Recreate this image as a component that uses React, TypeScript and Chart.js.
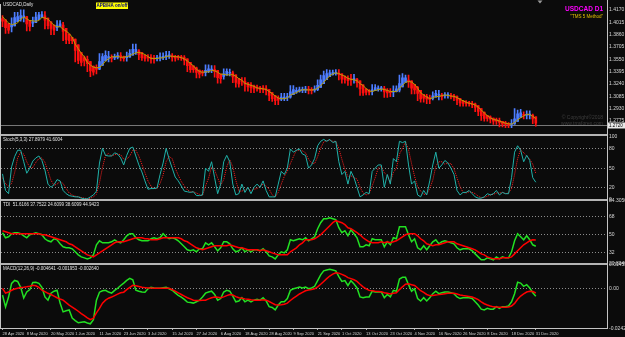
import React, { useEffect, useRef } from 'react';
import { Chart, registerables } from 'chart.js';

Chart.register(...registerables);

// ---------------- data ----------------
const dateTicks = ['28 Apr 2020', '8 May 2020', '20 May 2020', '1 Jun 2020', '11 Jun 2020', '23 Jun 2020', '3 Jul 2020', '15 Jul 2020', '27 Jul 2020', '6 Aug 2020', '18 Aug 2020', '28 Aug 2020', '9 Sep 2020', '21 Sep 2020', '1 Oct 2020', '13 Oct 2020', '23 Oct 2020', '4 Nov 2020', '16 Nov 2020', '26 Nov 2020', '8 Dec 2020', '18 Dec 2020', '31 Dec 2020'];
const BARS_PER_DATE_TICK = 8;
const SLOT_COUNT = 200;

const haOpen = [1.406, 1.4045, 1.3997, 1.3956, 1.397, 1.4023, 1.4054, 1.4077, 1.4086, 1.404,
  1.4002, 1.4011, 1.4046, 1.4077, 1.4095, 1.4068, 1.4021, 1.398, 1.3948, 1.3961,
  1.3978, 1.3939, 1.3867, 1.3825, 1.3804, 1.3732, 1.3634, 1.3572, 1.355, 1.3522,
  1.3463, 1.3426, 1.3425, 1.3473, 1.3529, 1.3565, 1.3574, 1.3567, 1.3574, 1.3585,
  1.3584, 1.3571, 1.3577, 1.3601, 1.3638, 1.3657, 1.3633, 1.3602, 1.3581, 1.3575,
  1.3565, 1.3558, 1.3562, 1.3571, 1.358, 1.3589, 1.3597, 1.3585, 1.3574, 1.3572,
  1.357, 1.3554, 1.3511, 1.3466, 1.3442, 1.3413, 1.3388, 1.3382, 1.3396, 1.3413,
  1.3419, 1.3409, 1.3364, 1.3335, 1.335, 1.3374, 1.3379, 1.3354, 1.3306, 1.3273,
  1.3272, 1.3254, 1.3229, 1.3211, 1.3195, 1.3192, 1.3181, 1.3178, 1.3169, 1.3132,
  1.3094, 1.3062, 1.3049, 1.3062, 1.3069, 1.3072, 1.3106, 1.3138, 1.3148, 1.3158,
  1.3162, 1.3166, 1.3165, 1.316, 1.3168, 1.3196, 1.3243, 1.3294, 1.3332, 1.3355,
  1.3369, 1.3377, 1.3366, 1.3333, 1.3314, 1.3297, 1.3294, 1.33, 1.3278, 1.3228,
  1.3178, 1.3157, 1.3146, 1.3156, 1.3175, 1.3179, 1.318, 1.316, 1.3143, 1.3137,
  1.3143, 1.3161, 1.3203, 1.3259, 1.3287, 1.328, 1.3233, 1.3198, 1.3159, 1.3105,
  1.3083, 1.3067, 1.3056, 1.3073, 1.3097, 1.3099, 1.309, 1.3093, 1.3094, 1.309,
  1.308, 1.3058, 1.3029, 1.3012, 1.3004, 1.2997, 1.2989, 1.2967, 1.2931, 1.2886,
  1.2846, 1.2826, 1.2811, 1.2791, 1.2781, 1.2768, 1.2752, 1.2741, 1.2731, 1.2736,
  1.2768, 1.2817, 1.2846, 1.2846, 1.2848, 1.2849, 1.2825];

const haClose = [1.403, 1.3948, 1.3915, 1.3983, 1.4075, 1.4085, 1.41, 1.4095, 1.3993, 1.3963,
  1.402, 1.408, 1.4108, 1.4113, 1.404, 1.3973, 1.3938, 1.3915, 1.3973, 1.3995,
  1.39, 1.3795, 1.3783, 1.3783, 1.366, 1.3535, 1.351, 1.3528, 1.3493, 1.3403,
  1.3388, 1.3423, 1.352, 1.3585, 1.36, 1.3583, 1.356, 1.358, 1.3595, 1.3583,
  1.3558, 1.3583, 1.3625, 1.3675, 1.3675, 1.3608, 1.357, 1.356, 1.3568, 1.3555,
  1.355, 1.3565, 1.358, 1.3588, 1.3598, 1.3605, 1.3573, 1.3563, 1.357, 1.3568,
  1.3538, 1.3468, 1.342, 1.3418, 1.3383, 1.3363, 1.3375, 1.341, 1.343, 1.3425,
  1.3398, 1.3318, 1.3305, 1.3365, 1.3398, 1.3383, 1.3328, 1.3258, 1.324, 1.327,
  1.3235, 1.3203, 1.3193, 1.3178, 1.3188, 1.317, 1.3175, 1.316, 1.3095, 1.3055,
  1.303, 1.3035, 1.3075, 1.3075, 1.3075, 1.314, 1.317, 1.3158, 1.3168, 1.3165,
  1.317, 1.3163, 1.3155, 1.3175, 1.3223, 1.329, 1.3345, 1.337, 1.3378, 1.3383,
  1.3385, 1.3355, 1.33, 1.3295, 1.328, 1.329, 1.3305, 1.3255, 1.3178, 1.3128,
  1.3135, 1.3135, 1.3165, 1.3193, 1.3183, 1.318, 1.314, 1.3125, 1.313, 1.3148,
  1.3178, 1.3245, 1.3315, 1.3315, 1.3273, 1.3185, 1.3163, 1.312, 1.305, 1.306,
  1.305, 1.3045, 1.309, 1.312, 1.31, 1.308, 1.3095, 1.3095, 1.3085, 1.307,
  1.3035, 1.3, 1.2995, 1.2995, 1.299, 1.298, 1.2945, 1.2895, 1.284, 1.2805,
  1.2805, 1.2795, 1.277, 1.277, 1.2755, 1.2735, 1.273, 1.272, 1.274, 1.28,
  1.2865, 1.2875, 1.2845, 1.285, 1.285, 1.28, 1.2745];

const haHigh = [1.41, 1.4045, 1.3997, 1.407, 1.414, 1.414, 1.417, 1.417, 1.4086, 1.404,
  1.408, 1.414, 1.414, 1.415, 1.415, 1.4068, 1.4021, 1.398, 1.4035, 1.4035,
  1.4015, 1.3939, 1.3867, 1.3825, 1.3805, 1.3732, 1.3634, 1.359, 1.359, 1.3522,
  1.3463, 1.348, 1.362, 1.362, 1.3655, 1.365, 1.3605, 1.3615, 1.3635, 1.3635,
  1.359, 1.364, 1.367, 1.374, 1.374, 1.367, 1.3633, 1.3602, 1.361, 1.361,
  1.36, 1.36, 1.363, 1.363, 1.365, 1.365, 1.362, 1.36, 1.36, 1.36,
  1.3595, 1.3554, 1.3511, 1.3466, 1.345, 1.3413, 1.341, 1.348, 1.348, 1.347,
  1.347, 1.3409, 1.3364, 1.343, 1.343, 1.3425, 1.34, 1.3354, 1.3306, 1.332,
  1.332, 1.3255, 1.3255, 1.3225, 1.3225, 1.321, 1.322, 1.322, 1.3169, 1.3132,
  1.3094, 1.309, 1.312, 1.312, 1.312, 1.322, 1.322, 1.3195, 1.32, 1.32,
  1.321, 1.321, 1.3195, 1.3215, 1.329, 1.335, 1.34, 1.342, 1.3415, 1.3415,
  1.342, 1.342, 1.3366, 1.334, 1.334, 1.336, 1.336, 1.331, 1.3278, 1.3228,
  1.3178, 1.317, 1.323, 1.323, 1.3215, 1.321, 1.321, 1.318, 1.318, 1.3215,
  1.3215, 1.335, 1.337, 1.335, 1.335, 1.328, 1.3233, 1.321, 1.3159, 1.311,
  1.311, 1.31, 1.314, 1.316, 1.316, 1.312, 1.313, 1.313, 1.312, 1.311,
  1.309, 1.3058, 1.303, 1.303, 1.302, 1.302, 1.3, 1.2967, 1.2931, 1.2886,
  1.2846, 1.284, 1.2811, 1.281, 1.281, 1.277, 1.277, 1.2755, 1.279, 1.293,
  1.291, 1.292, 1.289, 1.29, 1.29, 1.286, 1.2825];

const haLow = [1.396, 1.3875, 1.3875, 1.3895, 1.397, 1.4023, 1.403, 1.402, 1.3905, 1.3905,
  1.396, 1.4011, 1.4046, 1.4075, 1.393, 1.393, 1.386, 1.386, 1.391, 1.3955,
  1.3785, 1.3745, 1.3745, 1.3745, 1.3515, 1.3495, 1.3465, 1.3465, 1.3395, 1.333,
  1.335, 1.3365, 1.342, 1.3473, 1.3529, 1.3515, 1.3515, 1.3545, 1.3555, 1.353,
  1.3525, 1.3525, 1.3577, 1.3601, 1.361, 1.3545, 1.3535, 1.3525, 1.3525, 1.35,
  1.35, 1.353, 1.353, 1.3545, 1.3545, 1.356, 1.3525, 1.3525, 1.354, 1.3535,
  1.348, 1.3395, 1.3385, 1.3385, 1.3315, 1.3315, 1.334, 1.334, 1.338, 1.338,
  1.3325, 1.325, 1.325, 1.33, 1.335, 1.334, 1.3255, 1.32, 1.32, 1.322,
  1.315, 1.315, 1.313, 1.313, 1.315, 1.313, 1.313, 1.31, 1.303, 1.302,
  1.298, 1.298, 1.303, 1.303, 1.303, 1.306, 1.3106, 1.312, 1.3135, 1.313,
  1.313, 1.3115, 1.3115, 1.3135, 1.3155, 1.3196, 1.3243, 1.3294, 1.3332, 1.335,
  1.335, 1.329, 1.325, 1.325, 1.322, 1.322, 1.325, 1.32, 1.3095, 1.3095,
  1.31, 1.31, 1.31, 1.3155, 1.315, 1.315, 1.307, 1.307, 1.308, 1.308,
  1.314, 1.314, 1.3203, 1.3259, 1.3195, 1.3115, 1.3115, 1.303, 1.301, 1.301,
  1.299, 1.299, 1.304, 1.3073, 1.304, 1.304, 1.306, 1.306, 1.305, 1.303,
  1.298, 1.296, 1.296, 1.296, 1.296, 1.294, 1.289, 1.284, 1.278, 1.277,
  1.277, 1.275, 1.273, 1.273, 1.27, 1.27, 1.269, 1.269, 1.269, 1.273,
  1.2768, 1.2817, 1.28, 1.28, 1.28, 1.274, 1.271];

const maLine = [1.4087, 1.4043, 1.4006, 1.3986, 1.3994, 1.4008, 1.4055, 1.408, 1.4059, 1.4035,
  1.4033, 1.4027, 1.4038, 1.4075, 1.4069, 1.4056, 1.4012, 1.3979, 1.3956, 1.3961,
  1.3927, 1.3904, 1.3874, 1.3828, 1.374, 1.3682, 1.3626, 1.358, 1.351, 1.3477,
  1.3451, 1.3442, 1.3448, 1.3479, 1.3527, 1.3557, 1.3582, 1.3581, 1.3586, 1.3574,
  1.3576, 1.3583, 1.3594, 1.3615, 1.3631, 1.3635, 1.3626, 1.3609, 1.3583, 1.3561,
  1.356, 1.3559, 1.3568, 1.3567, 1.3585, 1.3589, 1.3588, 1.3582, 1.3581, 1.357,
  1.3554, 1.3528, 1.3497, 1.3467, 1.3423, 1.3397, 1.3386, 1.3393, 1.3391, 1.341,
  1.3405, 1.3387, 1.3363, 1.3361, 1.3352, 1.3355, 1.3356, 1.3336, 1.3306, 1.3285,
  1.3247, 1.3235, 1.3221, 1.321, 1.3188, 1.3184, 1.3177, 1.3171, 1.3144, 1.3118,
  1.3088, 1.3062, 1.3054, 1.3054, 1.3062, 1.3098, 1.3116, 1.3131, 1.3153, 1.3167,
  1.3165, 1.3164, 1.3164, 1.3167, 1.3187, 1.3215, 1.326, 1.3301, 1.3341, 1.3365,
  1.3379, 1.3369, 1.3351, 1.3336, 1.331, 1.3298, 1.329, 1.328, 1.3243, 1.3219,
  1.3181, 1.3151, 1.3145, 1.3157, 1.3167, 1.3175, 1.3169, 1.3159, 1.3144, 1.3145,
  1.3143, 1.3187, 1.3219, 1.3261, 1.3269, 1.3264, 1.3236, 1.3186, 1.313, 1.3101,
  1.3076, 1.3054, 1.3064, 1.3082, 1.308, 1.3094, 1.31, 1.3096, 1.3086, 1.3084,
  1.3068, 1.3046, 1.3028, 1.301, 1.2996, 1.2988, 1.2974, 1.2948, 1.2912, 1.2874,
  1.2842, 1.2814, 1.2792, 1.2786, 1.2772, 1.2758, 1.2746, 1.2738, 1.2734, 1.2756,
  1.2786, 1.2814, 1.2836, 1.2858, 1.2856, 1.2832, 1.2804];

const stochMain = [41, 15, 10, 52, 68, 78, 78, 60, 42, 50, 61, 66, 69, 62, 47, 25, 20, 24, 32, 30,
  15, 10, 7, 6, 5, 5, 3, 2, 2, 5, 8, 14, 58, 81, 70, 69, 69, 74, 72, 66,
  55, 70, 81, 83, 69, 55, 44, 30, 17, 18, 18, 19, 40, 58, 81, 64, 50, 36, 30, 22,
  14, 13, 12, 13, 7, 7, 8, 50, 45, 60, 35, 10, 25, 60, 70, 60, 25, 8, 10, 25,
  12, 20, 10, 20, 25, 20, 30, 15, 5, 5, 5, 25, 45, 40, 50, 80, 75, 78, 80, 72,
  70, 50, 55, 65, 85, 92, 95, 92, 95, 90, 92, 60, 40, 45, 25, 45, 35, 20, 5, 8,
  12, 10, 45, 50, 55, 55, 20, 40, 25, 65, 60, 92, 90, 92, 55, 25, 30, 8, 5, 15,
  8, 30, 55, 75, 50, 55, 62, 58, 50, 40, 15, 8, 12, 12, 15, 10, 5, 3, 3, 5,
  10, 8, 10, 15, 8, 12, 10, 10, 35, 75, 85, 78, 60, 70, 62, 35, 27.9];

const stochSignal = [35, 25, 22, 26, 43, 66, 75, 72, 60, 51, 51, 59, 65, 66, 59, 45, 31, 23, 25, 29,
  26, 18, 11, 8, 6, 5, 4, 3, 2, 3, 5, 9, 27, 51, 70, 73, 69, 71, 72, 71,
  64, 64, 69, 78, 78, 69, 56, 43, 30, 22, 18, 18, 26, 39, 60, 68, 65, 50, 39, 29,
  22, 16, 13, 13, 11, 9, 7, 22, 34, 52, 47, 35, 23, 32, 52, 63, 52, 31, 14, 14,
  16, 19, 14, 17, 18, 22, 25, 22, 17, 8, 5, 12, 25, 37, 45, 57, 68, 78, 78, 77,
  74, 64, 58, 57, 68, 81, 91, 93, 94, 92, 92, 81, 64, 48, 37, 38, 35, 33, 20, 11,
  8, 10, 22, 35, 50, 53, 43, 38, 28, 43, 50, 72, 81, 91, 79, 57, 37, 21, 14, 9,
  9, 18, 31, 53, 60, 60, 56, 58, 57, 49, 35, 21, 12, 11, 13, 12, 10, 6, 4, 4,
  6, 8, 9, 11, 11, 12, 10, 11, 18, 40, 65, 79, 74, 69, 64, 56, 41.6];

const tdiPrice = [52, 47, 48, 51, 52, 52, 51, 49, 47, 50, 51, 52, 51, 50, 46, 44, 43, 46, 45, 41,
  38, 37, 37, 36, 33, 30, 28, 27, 26, 27, 30, 40, 44, 42, 42, 42, 43, 45, 43, 42,
  45, 49, 51, 51, 47, 45, 44, 44, 44, 46, 47, 46, 47, 51, 48, 46, 47, 46, 44, 41,
  38, 35, 34, 35, 33, 36, 36, 42, 40, 42, 38, 34, 37, 43, 43, 41, 36, 33, 34, 37,
  33, 35, 33, 35, 35, 34, 36, 33, 29, 28, 26, 30, 33, 32, 35, 45, 44, 45, 46, 45,
  47, 44, 46, 48, 56, 62, 66, 66, 67, 66, 65, 57, 52, 54, 49, 55, 51, 47, 38, 38,
  40, 39, 46, 45, 45, 45, 38, 43, 40, 47, 46, 58, 58, 58, 50, 43, 46, 37, 35, 39,
  35, 39, 43, 45, 41, 43, 44, 43, 42, 41, 37, 35, 36, 36, 36, 34, 31, 28, 25, 25,
  27, 26, 25, 28, 26, 28, 27, 27, 33, 44, 51, 48, 45, 49, 45, 40, 38.6];

const tdiSignal = [54, 53, 52, 51, 51, 51, 51, 51, 51, 51, 51, 51, 51, 50, 50, 49, 48, 47, 46, 45,
  44, 43, 41, 40, 38, 36, 34, 32, 30, 29, 28, 30, 32, 34, 36, 38, 40, 42, 43, 43,
  43, 44, 45, 46, 47, 47, 47, 46, 46, 45, 45, 45, 46, 47, 47, 47, 47, 47, 47, 46,
  44, 43, 41, 39, 37, 36, 35, 36, 37, 38, 39, 39, 39, 39, 39, 40, 39, 38, 37, 37,
  36, 35, 35, 35, 35, 34, 35, 34, 33, 32, 31, 30, 30, 30, 30, 33, 35, 37, 40, 42,
  45, 45, 45, 46, 48, 50, 53, 56, 59, 62, 64, 63, 62, 60, 57, 56, 54, 52, 50, 47,
  45, 43, 42, 42, 42, 43, 42, 43, 42, 43, 44, 46, 48, 50, 51, 51, 51, 49, 46, 44,
  41, 40, 39, 40, 40, 41, 42, 43, 43, 43, 41, 40, 39, 38, 37, 36, 35, 33, 31, 30,
  28, 27, 26, 26, 26, 27, 27, 27, 28, 31, 34, 37, 40, 42, 44, 45, 44.9];

const macdMain = [-0.0039, -0.0112, -0.0051, 0.0033, 0.0051, 0.0045, 0.0009, -0.0057, -0.002, -0.0005,
  0.0039, 0.004, 0.0033, 0.0009, -0.005, -0.007, -0.0027, -0.0015, -0.0009, -0.0088,
  -0.0142, -0.0135, -0.013, -0.018, -0.0195, -0.0209, -0.0205, -0.0203, -0.021, -0.0215,
  -0.019, -0.007, -0.0021, -0.0012, -0.0009, -0.002, -0.0027, -0.001, 0.0003, 0.002,
  0.0035, 0.0051, 0.0064, 0.0055, -0.0009, -0.0015, -0.002, -0.0021, 0, 0.0009,
  0.0005, 0.0003, 0.0003, 0.0006, 0.0009, 0, -0.0009, -0.0025, -0.004, -0.0051,
  -0.0065, -0.0082, -0.0085, -0.0088, -0.008, -0.007, -0.005, -0.0027, -0.002, -0.0015,
  -0.0035, -0.007, -0.006, -0.002, -0.001, -0.0015, -0.0045, -0.008, -0.0075, -0.0055,
  -0.008, -0.007, -0.008, -0.007, -0.0065, -0.007, -0.0055, -0.0075, -0.011, -0.0115,
  -0.013, -0.01, -0.008, -0.008, -0.006, -0.001, 0, 0.0005, 0.001, 0.0005,
  0.001, 0, 0.0005, 0.0015, 0.005, 0.0085, 0.011, 0.0115, 0.012, 0.0115,
  0.011, 0.0075, 0.0045, 0.005, 0.002, 0.005, 0.003, 0.0005, -0.005, -0.0055,
  -0.005, -0.005, -0.0015, -0.002, -0.002, -0.002, -0.0055, -0.0035, -0.005, -0.001,
  -0.0015, 0.006, 0.007, 0.007, 0.0025, -0.0015, 0, -0.006, -0.0075, -0.0055,
  -0.0075, -0.0055, -0.003, -0.0015, -0.003, -0.0025, -0.002, -0.002, -0.0025, -0.003,
  -0.005, -0.006, -0.0055, -0.0055, -0.0055, -0.006, -0.008, -0.01, -0.0125, -0.013,
  -0.012, -0.0125, -0.0125, -0.011, -0.012, -0.011, -0.011, -0.0105, -0.008, -0.003,
  0.004, 0.0035, 0.0015, 0.0025, 0.0005, -0.0025, -0.0046];

const macdSignal = [0.0003, -0.0027, -0.002, -0.0009, -0.0002, 0.0003, 0.0008, 0.0009, 0.0012, 0.0016,
  0.0021, 0.0018, 0.0008, -0.0009, -0.0018, -0.0028, -0.0035, -0.0045, -0.0055, -0.0063,
  -0.007, -0.0085, -0.01, -0.0112, -0.0125, -0.0138, -0.0152, -0.0165, -0.0178, -0.019,
  -0.018, -0.0148, -0.012, -0.0088, -0.007, -0.0058, -0.0051, -0.0042, -0.0033, -0.0025,
  -0.0021, -0.0005, 0.0008, 0.0021, 0.0018, 0.0014, 0.0009, 0.0007, 0.0005, 0.0004,
  0.0003, 0.0003, 0.0003, 0.0003, 0.0003, 0.0003, -0.0005, -0.0015, -0.0025, -0.0035,
  -0.0045, -0.0055, -0.0062, -0.007, -0.0072, -0.0072, -0.0071, -0.007, -0.0062, -0.0055,
  -0.005, -0.0052, -0.0055, -0.005, -0.0042, -0.0035, -0.0038, -0.0048, -0.0055, -0.0058,
  -0.0062, -0.0065, -0.0068, -0.007, -0.007, -0.007, -0.0068, -0.007, -0.0078, -0.0088,
  -0.0098, -0.01, -0.0098, -0.0095, -0.0088, -0.0072, -0.0058, -0.0045, -0.0032, -0.0022,
  -0.0012, -0.0008, -0.0005, 0, 0.0012, 0.0028, 0.0045, 0.0062, 0.0078, 0.009,
  0.0098, 0.0096, 0.0088, 0.008, 0.0068, 0.0062, 0.0055, 0.0045, 0.0028, 0.0012,
  0, -0.001, -0.0012, -0.0015, -0.0017, -0.0019, -0.0025, -0.0028, -0.0032, -0.0028,
  -0.0025, -0.0005, 0.0012, 0.0028, 0.003, 0.0025, 0.002, 0.0005, -0.0012, -0.0022,
  -0.0035, -0.0042, -0.0042, -0.0038, -0.0036, -0.0033, -0.003, -0.0028, -0.0027, -0.0028,
  -0.0032, -0.0038, -0.0042, -0.0045, -0.0048, -0.0051, -0.0058, -0.0067, -0.008, -0.0092,
  -0.01, -0.0106, -0.0111, -0.0112, -0.0114, -0.0114, -0.0113, -0.0112, -0.0106, -0.009,
  -0.0065, -0.0045, -0.0032, -0.002, -0.0015, -0.0017, -0.0026];

const priceTicks = [1.417, 1.4015, 1.386, 1.3705, 1.355, 1.3395, 1.324, 1.3085, 1.293, 1.2775];
const priceTickLabels = ['1.4170', '1.4015', '1.3860', '1.3705', '1.3550', '1.3395', '1.3240', '1.3085', '1.2930', '1.2775'];
const stochTicks = [0, 20, 50, 80, 100];
const stochTickLabels = ['0', '20', '50', '80', '100'];
const stochLevels = [20, 50, 80];
const tdiTicks = [20.804, 32, 50, 68, 84.305];
const tdiTickLabels = ['20.8040', '32', '50', '68', '84.3050'];
const tdiLevels = [32, 50, 68];
const macdTicks = [-0.024253, 0, 0.014532];
const macdTickLabels = ['-0.024253', '0.00', '0.014532'];
const macdLevels = [0];
const bidPrice = 1.272;
const bidLabel = '1.2720';

const symbolTitle = 'USDCAD D1';
const methodTitle = '"TMS 5 Method"';
const mainLabel = 'USDCAD,Daily';
const toggleLabel = 'APB/HA on/off';
const stochLabel = 'Stoch(5,3,3) 27.8979 41.6004';
const tdiLabel = 'TDI  51.6166 37.7522 24.6099 38.6099 44.9423';
const macdLabel = 'MACD(12,26,9) -0.004641 -0.001953 -0.002640';
const copyrightLines = ['© Copyright©2018', 'www.tmsforex.com'];

// ---------------- style ----------------
const FONT = "'Liberation Sans', Arial, sans-serif";
const BG = '#0b0b0b';
const BULL = '#4d7dff';
const BEAR = '#ff1010';
const MA_COLOR = '#b9a000';
const AXIS_TEXT = '#d6d6d6';
const FRAME = '#c4c4c4';
const LEVEL = '#8c8c8c';
const AXIS_W = 18;
const DATE_H = 9;

function paneScale(min: number, max: number, weight: number, tickValues: number[], tickLabels: string[], levels: number[]) {
  return {
    type: 'linear',
    position: 'right',
    stack: 'panes',
    stackWeight: weight,
    min,
    max,
    afterBuildTicks: (s: any) => { s.ticks = tickValues.map((v) => ({ value: v })); },
    afterFit: (s: any) => { s.width = AXIS_W; },
    grid: {
      display: levels.length > 0,
      drawTicks: false,
      lineWidth: 1,
      color: (c: any) => (c.tick && levels.includes(c.tick.value) ? LEVEL : 'rgba(0,0,0,0)'),
    },
    border: { display: false, dash: [1, 2] },
    ticks: {
      autoSkip: false,
      padding: 2,
      color: AXIS_TEXT,
      font: { family: FONT, size: 5 },
      callback: (_v: any, i: number) => tickLabels[i] ?? '',
    },
  };
}

const decor = {
  id: 'mt4Decor',
  beforeDraw(chart: any) {
    const { ctx, width, height } = chart;
    ctx.save();
    ctx.fillStyle = BG;
    ctx.fillRect(0, 0, width, height);
    ctx.restore();
  },
  beforeDatasetsDraw(chart: any) {
    const { ctx, chartArea: a, scales } = chart;
    const y = Math.round(scales.yMain.getPixelForValue(bidPrice)) + 0.5;
    ctx.save();
    ctx.strokeStyle = '#777777';
    ctx.lineWidth = 1;
    ctx.beginPath();
    ctx.moveTo(a.left, y);
    ctx.lineTo(a.right, y);
    ctx.stroke();
    ctx.restore();
  },
  afterDraw(chart: any) {
    const { ctx, chartArea: a, scales } = chart;
    ctx.save();
    // pane separators
    ctx.fillStyle = '#b4b4b4';
    for (const id of ['yMain', 'yStoch', 'yTdi']) {
      const yb = Math.round(scales[id].bottom);
      ctx.fillRect(a.left, yb - 1, a.right - a.left, 2);
    }
    // frame
    ctx.fillStyle = FRAME;
    ctx.fillRect(a.right, 0, 1, a.bottom + 1);
    ctx.fillRect(0, a.top - 1, 1, a.bottom - a.top + 1);
    ctx.fillRect(0, a.bottom, a.right + 1, 1);
    // shift marker
    ctx.fillStyle = '#9a9a9a';
    ctx.beginPath();
    ctx.moveTo(537.5, 0.5);
    ctx.lineTo(542.5, 0.5);
    ctx.lineTo(540, 3.5);
    ctx.closePath();
    ctx.fill();

    ctx.textBaseline = 'top';
    ctx.textAlign = 'left';
    ctx.font = `4.5px ${FONT}`;
    ctx.fillStyle = '#e2e2e2';
    ctx.fillText(mainLabel, 3, 2.5);
    ctx.fillText(stochLabel, 3, scales.yStoch.top + 2.5);
    ctx.fillText(tdiLabel, 3, scales.yTdi.top + 2);
    ctx.fillText(macdLabel, 3, scales.yMacd.top + 2);

    // toggle box
    ctx.fillStyle = '#ffff00';
    ctx.fillRect(96, 2.5, 32, 6.5);
    ctx.fillStyle = '#000080';
    ctx.font = `bold 4.5px ${FONT}`;
    ctx.textAlign = 'center';
    ctx.fillText(toggleLabel, 112, 3.5);

    // titles
    ctx.textAlign = 'right';
    ctx.fillStyle = '#ff00ff';
    ctx.font = `bold 6.5px ${FONT}`;
    ctx.fillText(symbolTitle, 603, 6);
    ctx.fillStyle = '#e6c200';
    ctx.font = `4.5px ${FONT}`;
    ctx.fillText(methodTitle, 603, 15);

    // watermark
    ctx.fillStyle = '#3e3e3e';
    ctx.font = `5px ${FONT}`;
    ctx.fillText(copyrightLines[0], 603, 115);
    ctx.fillText(copyrightLines[1], 603, 121);

    // bid label
    const by = Math.round(scales.yMain.getPixelForValue(bidPrice)) + 0.5;
    ctx.fillStyle = '#e8e8e8';
    ctx.fillRect(a.right + 1, by - 3, AXIS_W - 1, 6);
    ctx.fillStyle = '#000000';
    ctx.textAlign = 'left';
    ctx.textBaseline = 'middle';
    ctx.font = `4.5px ${FONT}`;
    ctx.fillText(bidLabel, a.right + 2, by);
    ctx.restore();
  },
};

export default function App() {
  const ref = useRef<HTMLCanvasElement>(null);
  useEffect(() => {
    const canvas = ref.current;
    if (!canvas) return;
    const slots = Array.from({ length: SLOT_COUNT }, (_, i) => String(i));
    const candleColors = haOpen.map((o, i) => (haClose[i] >= o ? BULL : BEAR));
    const line = (data: number[], axis: string, color: string, width: number, order: number, dash: number[] = []) => ({
      type: 'line', data, yAxisID: axis, borderColor: color, borderWidth: width, borderDash: dash,
      pointRadius: 0, tension: 0, order, fill: false,
    });
    const chart = new Chart(canvas, {
      type: 'bar',
      data: {
        labels: slots,
        datasets: [
          line(maLine, 'yMain', MA_COLOR, 1, 0) as any,
          {
            type: 'bar', data: haOpen.map((o, i) => [o, haClose[i]]), yAxisID: 'yMain',
            backgroundColor: candleColors, barThickness: 2, grouped: false, borderWidth: 0, minBarLength: 1, order: 1,
          },
          {
            type: 'bar', data: haLow.map((l, i) => [l, haHigh[i]]), yAxisID: 'yMain',
            backgroundColor: candleColors, barThickness: 1, grouped: false, borderWidth: 0, order: 2,
          },
          line(stochMain, 'yStoch', '#20b2aa', 1, 3),
          line(stochSignal, 'yStoch', '#ff2020', 1, 4, [1, 1]),
          line(tdiSignal, 'yTdi', '#ff0000', 1.5, 5),
          line(tdiPrice, 'yTdi', '#22e022', 1.5, 6),
          line(macdSignal, 'yMacd', '#ff0000', 1.5, 7),
          line(macdMain, 'yMacd', '#22e022', 1.5, 8),
        ] as any,
      },
      options: {
        responsive: false,
        animation: false,
        devicePixelRatio: 1,
        events: [],
        layout: { padding: { left: 1, top: 2, right: 0, bottom: 0 } },
        plugins: { legend: { display: false }, tooltip: { enabled: false }, title: { display: false } },
        scales: {
          x: {
            type: 'category',
            offset: true,
            afterBuildTicks: (s: any) => {
              s.ticks = s.ticks.filter((t: any) => t.value % BARS_PER_DATE_TICK === 0 && t.value / BARS_PER_DATE_TICK < dateTicks.length);
            },
            afterFit: (s: any) => { s.height = DATE_H; },
            grid: { drawOnChartArea: false, drawTicks: true, tickLength: 2, color: '#a8a8a8', lineWidth: 1, offset: false },
            border: { display: false },
            ticks: {
              autoSkip: false, maxRotation: 0, minRotation: 0, align: 'start', padding: 1,
              color: AXIS_TEXT, font: { family: FONT, size: 4 },
              callback: (v: any) => dateTicks[Number(v) / BARS_PER_DATE_TICK] ?? '',
            },
          },
          yMain: paneScale(1.26, 1.4232, 131, priceTicks, priceTickLabels, []),
          yStoch: paneScale(-0.2, 102.2, 66, stochTicks, stochTickLabels, stochLevels),
          yTdi: paneScale(20.8, 84.4, 64.5, tdiTicks, tdiTickLabels, tdiLevels),
          yMacd: paneScale(-0.02408, 0.01514, 64.5, macdTicks, macdTickLabels, macdLevels),
        } as any,
      },
      plugins: [decor],
    } as any);
    return () => chart.destroy();
  }, []);
  return (
    <div style={{ position: 'fixed', left: 0, top: 0, width: 625, height: 337, background: BG, overflow: 'hidden' }}>
      <canvas ref={ref} width={625} height={337} style={{ display: 'block', width: 625, height: 337 }} />
    </div>
  );
}
